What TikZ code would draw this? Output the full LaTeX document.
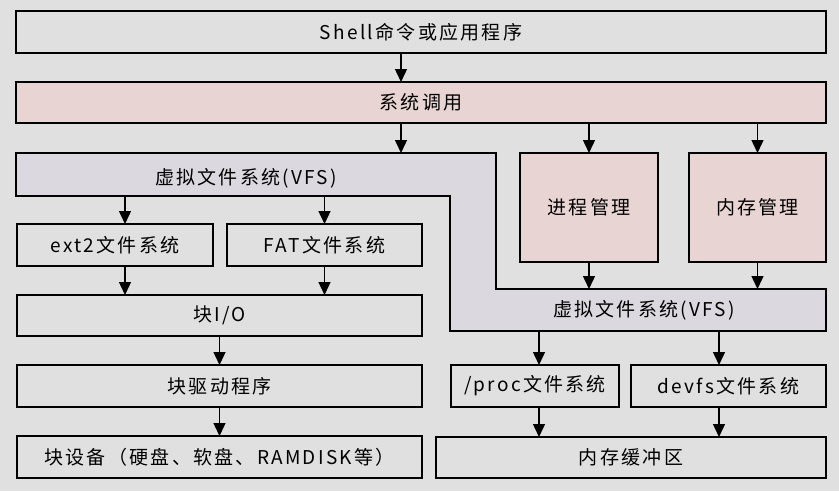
\documentclass[tikz,border=0pt]{standalone}
\usepackage{fontspec}
\newfontfamily\cjk[LetterSpace=12]{Noto Sans CJK SC}
\usetikzlibrary{positioning,arrows.meta}
\definecolor{bggray}{RGB}{224,224,224}
\definecolor{sypink}{RGB}{232,212,210}
\definecolor{vfslilac}{RGB}{220,216,224}

\begin{document}
\begin{tikzpicture}[x=1pt,y=-1pt,
		every node/.style={font=\cjk\fontsize{19}{21}\selectfont},
		block/.style={draw,line width=1.4pt,fill=bggray,minimum height=42pt,inner sep=0pt,outer sep=0pt},
		pink/.style={block,fill=sypink},
		arr/.style={-{Triangle[width=12pt,length=13pt]},line width=1.4pt}]
	\fill[bggray] (0,0) rectangle (839,491);
	\useasboundingbox (0,0) rectangle (839,491);

	% top layers
	\node[block,minimum width=810pt] (shell) at (421,32)    {Shell命令或应用程序};
	\node[pink,minimum width=810pt,minimum height=41pt] (sys) at (421,102.5) {系统调用};
	\node[pink,minimum width=138pt,minimum height=109pt] (proc) at (589,207.5) {进程管理};
	\node[pink,minimum width=137pt,minimum height=109pt] (mem)  at (757.5,207.5) {内存管理};

	% the stepped VFS band
	\coordinate (vA) at (16,196);
	\coordinate (vB) at (450,331);
	\coordinate (vT) at (16,153);
	\draw[line width=1.4pt,fill=vfslilac] (vT) -- (496,153) -- (496,289) -- (826,289)
		-- (826,331) -- (vB) -- (450,196) -- (vA) -- cycle;
	\node (vfs1) at (246,178) {虚拟文件系统(VFS)};
	\node (vfs2) at (644,310) {虚拟文件系统(VFS)};

	% block side
	\node[block,minimum width=196pt] (ext2) at (115,245)   {ext2文件系统};
	\node[block,minimum width=195pt] (fat)  at (324.5,245) {FAT文件系统};
	\node[block,minimum width=405pt,minimum height=41pt] (blkio) at (219.5,315.5) {块I/O};
	\node[block,minimum width=405pt] (blkdrv) [below=29pt of blkio] {块驱动程序};
	\node[block,minimum width=405pt] (blkdev) [below=29pt of blkdrv] {块设备（硬盘、软盘、RAMDISK等）};

	% memory side
	\node[block,minimum width=168pt] (procfs) at (535,386)   {/proc文件系统};
	\node[block,minimum width=195pt] (devfs)  at (728.5,386) {devfs文件系统};
	\node[block,minimum width=390pt,minimum height=41pt] (membuf) at (631,457.5) {内存缓冲区};

	\draw[arr] ([xshift=-20pt]shell.south) -- ([xshift=-20pt]sys.north);
	\draw[arr] ([xshift=-20pt]sys.south) -- ([xshift=-20pt]sys.south |- vT);
	\draw[arr] (sys.south -| proc.north) -- (proc.north);
	\draw[arr] (sys.south -| mem.north) -- (mem.north);
	\draw[arr] (proc.south) -- ++(0,27);
	\draw[arr] (mem.south) -- ++(0,27);
	\draw[arr] ([xshift=10pt]ext2.north |- vA) -- ([xshift=10pt]ext2.north);
	\draw[arr] (fat.north |- vA) -- (fat.north);
	\draw[arr] ([xshift=10pt]ext2.south) -- ([xshift=10pt]ext2.south |- blkio.north);
	\draw[arr] (fat.south) -- (fat.south |- blkio.north);
	\draw[arr] (blkio.south) -- (blkdrv.north);
	\draw[arr] (blkdrv.south) -- (blkdev.north);
	\draw[arr] ([xshift=4pt]procfs.north |- vB) -- ([xshift=4pt]procfs.north);
	\draw[arr] ([xshift=-9.5pt]devfs.north |- vB) -- ([xshift=-9.5pt]devfs.north);
	\draw[arr] ([xshift=4pt]procfs.south) -- ([xshift=4pt]procfs.south |- membuf.north);
	\draw[arr] ([xshift=-9.5pt]devfs.south) -- ([xshift=-9.5pt]devfs.south |- membuf.north);
\end{tikzpicture}
\end{document}
